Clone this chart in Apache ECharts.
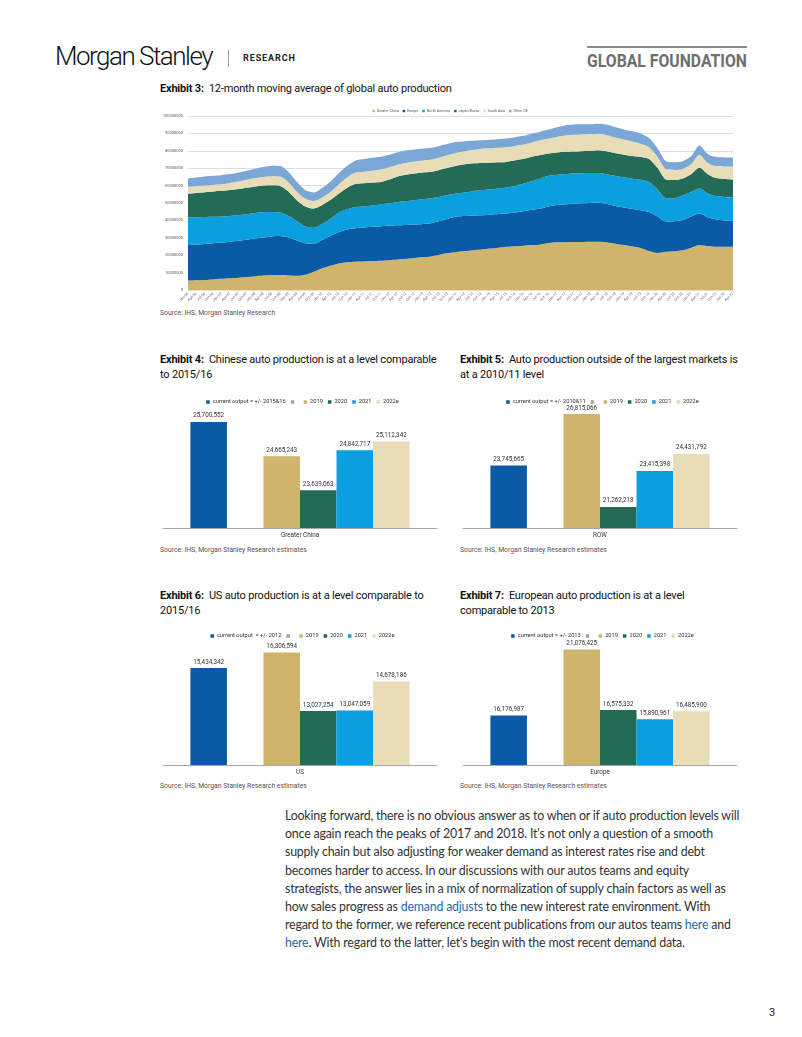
<!DOCTYPE html>
<html><head><meta charset="utf-8">
<script src="https://cdn.jsdelivr.net/npm/echarts@6/dist/echarts.min.js"></script>
<style>
html,body{margin:0;padding:0;background:#fff;}
#page{position:relative;width:802px;height:1037px;overflow:hidden;font-family:Roboto,"Liberation Sans",sans-serif;color:#222;}
.abs{position:absolute;white-space:nowrap;}
.ttl{font-family:Roboto,sans-serif;font-size:11px;letter-spacing:-0.2px;line-height:15px;color:#111;}
.ttl b{font-weight:700;}
.src{font-family:Roboto,sans-serif;font-size:6.8px;line-height:9px;color:#555;}
.para{font-family:Lato,"Open Sans",sans-serif;font-size:12.4px;letter-spacing:-0.2px;line-height:18.2px;color:#333;}
.para a{color:#1f68ad;text-decoration:none;}
</style></head>
<body><div id="page">
<div class="abs" style="left:55px;top:41px;font-size:26px;line-height:30px;font-weight:300;letter-spacing:-1.5px;color:#111;">Morgan Stanley</div>
<div class="abs" style="left:228px;top:50px;width:1px;height:17px;background:#999;"></div>
<div class="abs" style="left:243px;top:53px;font-size:9px;line-height:11px;font-weight:700;letter-spacing:0.9px;color:#222;">RESEARCH</div>
<div class="abs" style="left:587px;top:46px;width:160px;height:2px;background:#8a8a8a;"></div>
<div class="abs" style="left:587px;top:51px;font-size:18px;line-height:20px;font-weight:700;color:#6e6e6e;transform:scaleX(0.876);transform-origin:left top;">GLOBAL FOUNDATION</div>

<div class="abs ttl" style="left:160px;top:81px;"><b>Exhibit 3:</b>&nbsp; 12-month moving average of global auto production</div>
<div id="c1" class="abs" style="left:150px;top:98px;width:600px;height:210px;"></div>
<div class="abs src" style="left:160px;top:309px;">Source: IHS, Morgan Stanley Research</div>

<div class="abs ttl" style="left:160px;top:352px;"><b>Exhibit 4:</b>&nbsp; Chinese auto production is at a level comparable<br>to 2015/16</div>
<div class="abs ttl" style="left:460px;top:352px;"><b>Exhibit 5:</b>&nbsp; Auto production outside of the largest markets is<br>at a 2010/11 level</div>
<div id="c4" class="abs" style="left:155px;top:388px;width:295px;height:155px;"></div>
<div id="c5" class="abs" style="left:455px;top:388px;width:295px;height:155px;"></div>
<div class="abs src" style="left:160px;top:546px;">Source: IHS, Morgan Stanley Research estimates</div>
<div class="abs src" style="left:460px;top:546px;">Source: IHS, Morgan Stanley Research estimates</div>

<div class="abs ttl" style="left:160px;top:588px;"><b>Exhibit 6:</b>&nbsp; US auto production is at a level comparable to<br>2015/16</div>
<div class="abs ttl" style="left:460px;top:588px;"><b>Exhibit 7:</b>&nbsp; European auto production is at a level<br>comparable to 2013</div>
<div id="c6" class="abs" style="left:155px;top:622px;width:295px;height:158px;"></div>
<div id="c7" class="abs" style="left:455px;top:622px;width:295px;height:158px;"></div>
<div class="abs src" style="left:160px;top:782px;">Source: IHS, Morgan Stanley Research estimates</div>
<div class="abs src" style="left:460px;top:782px;">Source: IHS, Morgan Stanley Research estimates</div>

<div class="abs para" style="left:285px;top:807px;">Looking forward, there is no obvious answer as to when or if auto production levels will<br>once again reach the peaks of 2017 and 2018. It's not only a question of a smooth<br>supply chain but also adjusting for weaker demand as interest rates rise and debt<br>becomes harder to access. In our discussions with our autos teams and equity<br>strategists, the answer lies in a mix of normalization of supply chain factors as well as<br>how sales progress as <a>demand adjusts</a> to the new interest rate environment. With<br>regard to the former, we reference recent publications from our autos teams <a>here</a> and<br><a>here</a>. With regard to the latter, let's begin with the most recent demand data.</div>
<div class="abs" style="left:769px;top:1006px;font-size:11px;line-height:14px;color:#222;">3</div>
</div>
<script>
// ---------- Exhibit 3 data (millions of units, 12m moving average, quarterly points) ----------
const periods = ["Jan-06","Apr-06","Jul-06","Oct-06","Jan-07","Apr-07","Jul-07","Oct-07","Jan-08","Apr-08","Jul-08","Oct-08",
"Jan-09","Apr-09","Jul-09","Oct-09","Jan-10","Apr-10","Jul-10","Oct-10","Jan-11","Apr-11","Jul-11","Oct-11",
"Jan-12","Apr-12","Jul-12","Oct-12","Jan-13","Apr-13","Jul-13","Oct-13","Jan-14","Apr-14","Jul-14","Oct-14",
"Jan-15","Apr-15","Jul-15","Oct-15","Jan-16","Apr-16","Jul-16","Oct-16","Jan-17","Apr-17","Jul-17","Oct-17",
"Jan-18","Apr-18","Jul-18","Oct-18","Jan-19","Apr-19","Jul-19","Oct-19","Jan-20","Apr-20","Jul-20","Oct-20",
"Jan-21","Apr-21","Jul-21","Oct-21","Jan-22","Apr-22"];
const yTicks = [0,10,20,30,40,50,60,70,80,90,100];
const greaterChina = [5.4,5.6,5.8,6.1,6.4,6.7,7.0,7.4,7.9,8.3,8.6,8.6,8.4,8.2,8.8,10.5,12.5,14.0,15.3,16.0,
16.3,16.4,16.6,16.8,17.1,17.5,17.9,18.4,18.9,19.3,20.2,21.2,21.9,22.4,22.9,23.3,23.8,24.3,24.8,25.1,
25.5,25.8,26.2,27.0,27.4,27.5,27.6,27.6,27.7,27.8,27.3,26.6,25.8,25.0,24.2,22.4,21.3,22.0,22.3,22.9,
24.2,25.8,25.2,24.9,24.9,24.9];
const europe = [20.4,20.5,20.7,20.8,20.9,21.1,21.3,21.5,21.7,21.9,22.2,22.4,21.8,20.3,18.0,16.1,16.3,17.0,18.0,18.8,
19.2,19.5,19.7,19.9,19.8,19.7,19.5,19.3,19.1,19.1,19.4,19.8,20.3,20.1,19.9,19.7,19.5,19.4,19.2,19.5,
19.8,20.3,20.6,21.0,21.4,21.8,22.0,22.2,22.3,22.3,22.1,21.7,21.6,21.6,21.7,22.4,20.9,17.4,17.2,17.3,
18.0,18.2,16.6,15.6,15.1,14.9];
const northAmerica = [15.9,15.7,15.5,15.2,15.0,14.8,14.7,14.7,14.7,14.5,14.0,13.5,12.3,11.0,9.7,9.2,9.2,10.0,11.2,11.7,
12.1,12.2,12.3,12.5,12.9,13.3,13.7,13.9,14.2,14.3,14.0,13.6,13.2,13.5,14.0,14.4,14.6,14.7,14.9,15.2,
15.7,16.4,17.2,17.6,17.4,17.3,17.3,17.3,17.2,17.2,17.1,17.2,17.4,17.4,17.5,17.2,15.4,13.4,13.3,14.1,
14.1,14.3,13.7,13.5,13.5,13.4];
const japanKorea = [13.7,14.0,14.2,14.5,14.7,14.9,15.0,15.1,15.2,15.3,15.4,15.3,14.0,12.0,11.5,11.0,10.8,10.8,11.0,12.3,
13.4,13.3,13.2,12.9,13.7,14.8,15.2,15.4,15.3,15.2,15.4,15.6,16.0,16.2,16.0,15.6,15.3,15.0,14.7,14.7,
14.4,14.1,13.6,12.9,12.8,12.8,12.7,12.7,12.8,13.0,13.1,13.1,13.0,13.0,13.0,13.3,12.6,10.7,10.4,9.8,
10.2,12.1,11.0,10.3,10.3,10.3];
const southAsia = [3.9,3.8,3.8,3.8,3.8,4.0,4.3,4.6,4.8,5.0,5.2,5.4,5.3,5.0,4.5,4.4,4.4,4.5,5.3,6.0,
6.5,6.6,6.8,7.1,7.0,6.7,6.7,6.8,6.9,7.1,7.2,7.4,7.4,7.6,7.7,8.2,8.3,8.4,8.5,8.3,
8.2,8.2,8.4,8.5,9.0,9.4,9.6,9.6,9.6,9.5,9.4,9.0,8.7,8.3,7.6,6.7,6.3,6.0,5.8,5.5,
5.7,7.4,6.5,6.9,7.2,7.5];
const otherOE = [4.7,5.0,5.2,5.2,5.2,5.1,5.1,5.2,5.4,5.7,6.0,6.0,6.0,5.5,4.8,4.8,5.4,6.1,6.4,6.6,
6.9,7.3,7.4,7.4,7.3,7.2,7.2,7.0,6.9,6.8,6.6,6.4,6.2,5.7,5.3,4.8,4.9,4.9,4.9,5.0,
5.0,5.0,5.0,5.2,5.6,5.8,5.9,5.8,5.7,5.8,6.0,5.9,5.8,5.9,5.8,5.3,5.0,4.5,4.4,4.4,
4.6,5.2,5.0,5.2,5.2,5.2];
const areaNames = ["Greater China","Europe","North America","Japan/Korea","South Asia","Other OE"];
const areaColors = ["#cfb56c","#0b5aa5","#0aa0df","#236b57","#e8ddb7","#7ba7d6"];

// ---------- Exhibits 4-7 data ----------
const barNamesCN = ["current output = +/- 2015&16"," ","2019","2020","2021","2022e"];
const barValuesCN = [25700552,null,24665243,23639063,24842717,25112342];
const barNamesROW = ["current output = +/- 2010&11"," ","2019","2020","2021","2022e"];
const barValuesROW = [23745665,null,26815066,21262218,23415398,24431792];
const barNamesUS = ["current output  = +/- 2012"," ","2019","2020","2021","2022e"];
const barValuesUS = [15434342,null,16306594,13027254,13047059,14678186];
const barNamesEU = ["current output = +/- 2013"," ","2019","2020","2021","2022e"];
const barValuesEU = [16176987,null,21076425,16575332,15890961,16485900];
const barColors = ["#0b5aa5","#a6a6a6","#cfb56c","#236b57","#0aa0df","#e8ddb7"];

const FONT = "Roboto, sans-serif";

// ---------- Exhibit 3 chart ----------
const c1 = echarts.init(document.getElementById('c1'), null, {renderer:'canvas'});
const areaData = [greaterChina, europe, northAmerica, japanKorea, southAsia, otherOE];
c1.setOption({
  animation:false,
  textStyle:{fontFamily:FONT},
  grid:{left:38,right:17,top:18,bottom:18},
  legend:{top:6,left:'center',icon:'rect',itemWidth:2.5,itemHeight:2.5,itemGap:4,
    textStyle:{fontSize:3.6,color:'#595959',fontFamily:FONT,padding:[0,0,0,-3]},data:areaNames},
  xAxis:{type:'category',boundaryGap:false,data:periods,
    axisLine:{show:false},axisTick:{show:false},
    axisLabel:{rotate:45,interval:0,fontSize:3.8,color:'#6f6f6f',margin:3}},
  yAxis:{type:'value',min:0,max:100,interval:10,
    axisLine:{show:false},axisTick:{show:false},
    axisLabel:{fontSize:4,color:'#595959',margin:5,formatter:v=>String(v*1000000)},
    splitLine:{lineStyle:{color:'#dedede',width:1.2}}},
  series: areaNames.map((n,i)=>({
    name:n,type:'line',stack:'total',data:areaData[i],symbol:'none',smooth:0.25,
    lineStyle:{width:0},areaStyle:{color:areaColors[i],opacity:1},itemStyle:{color:areaColors[i]}
  }))
});

// ---------- bar charts ----------
function barChart(id, names, values, category, min, max, gridTop){
  const ch = echarts.init(document.getElementById(id), null, {renderer:'canvas'});
  ch.setOption({
    animation:false,
    textStyle:{fontFamily:FONT},
    grid:{left:8,right:13,top:gridTop,bottom:15},
    legend:{top:6,left:'center',icon:'rect',itemWidth:3.5,itemHeight:3.5,itemGap:5,
      textStyle:{fontSize:5.7,color:'#333',fontFamily:FONT,padding:[0,0,0,-2]},data:names},
    xAxis:{type:'category',data:[category],
      axisLine:{lineStyle:{color:'#a6a6a6',width:1}},axisTick:{show:false},
      axisLabel:{fontSize:6.3,color:'#333',margin:4}},
    yAxis:{type:'value',min:min,max:max,show:false,splitLine:{show:false}},
    series: names.map((n,i)=>({
      name:n,type:'bar',data:[values[i]],barGap:'0%',barCategoryGap:'20%',
      itemStyle:{color:barColors[i]},
      label:{show:true,position:'top',distance:3,fontSize:6.3,color:'#333',fontFamily:FONT,
        formatter:p=>p.value==null?'':Number(p.value).toLocaleString('en-US')}
    }))
  });
}
barChart('c4', barNamesCN, barValuesCN, 'Greater China', 22500000, 26000000, 24);
barChart('c5', barNamesROW, barValuesROW, 'ROW', 20000000, 27000000, 23);
barChart('c6', barNamesUS, barValuesUS, 'US', 10000000, 17000000, 18);
barChart('c7', barNamesEU, barValuesEU, 'Europe', 12500000, 22000000, 15);
</script>
</body></html>
